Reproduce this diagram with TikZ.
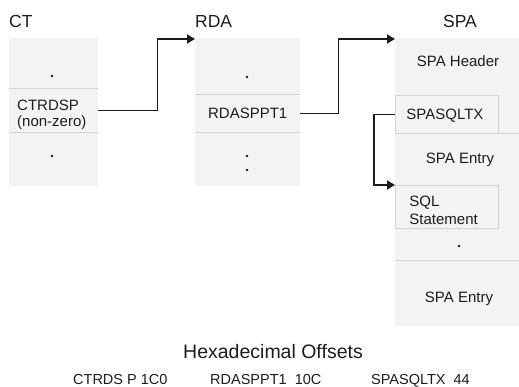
\documentclass[tikz,border=0pt]{standalone}
\usepackage{fontspec}
\setmainfont{Liberation Sans}
\usepackage{xcolor}
\definecolor{cellgray}{RGB}{243,243,243}
\definecolor{rulegray}{RGB}{210,210,210}
\definecolor{inkgray}{RGB}{28,28,28}
\usetikzlibrary{
    arrows.meta,
    positioning
}
\tikzset{
    colcell/.style  = {rectangle, fill=cellgray, inner sep=0pt, text=inkgray,
                       font=\fontsize{15}{15.5}\selectfont, align=center},
    subfield/.style = {rectangle, draw=rulegray, fill=cellgray, line width=0.9pt,
                       inner sep=0pt, text=inkgray, align=left,
                       font=\fontsize{15}{18}\selectfont},
    coltitle/.style = {font=\fontsize{17.5}{20}\selectfont, text=inkgray, inner sep=0pt},
    divider/.style  = {draw=rulegray, line width=0.9pt},
    ptrArr/.style   = {-{Triangle[length=8pt,width=9pt]}, line width=1.6pt, draw=inkgray},
    dotmark/.style  = {circle, fill=inkgray, inner sep=0pt, minimum size=2.8pt}
}

\begin{document}
\begin{tikzpicture}[
    x=1pt, y=-1pt,
    celltext/.style = {font=\fontsize{15}{16}\selectfont, text=inkgray, inner sep=0pt},
    hexrow/.style   = {font=\fontsize{14.5}{16}\selectfont, text=inkgray,
                       inner sep=0pt, anchor=base west}
]
\useasboundingbox (0,0) rectangle (519,387);

% ===== CT column =====
\node[coltitle, anchor=base west] (cttitle) at (9,28) {CT};
\node[colcell, minimum width=89pt, minimum height=50pt, anchor=north west] (ct1) at (9,38) {};
\node[colcell, minimum width=89pt, minimum height=44pt, below=0pt of ct1,
      text width=73pt, align=left, text height=19pt] (ct2) {CTRDSP\\(non-zero)};
\node[colcell, minimum width=89pt, minimum height=53pt, below=0pt of ct2] (ct3) {};
\draw[divider] (ct1.south west) -- (ct1.south east);
\draw[divider] (ct2.south west) -- (ct2.south east);
\node[dotmark] (ctdot1) at (52,76) {};
\node[dotmark] (ctdot2) at (52,156) {};

% ===== RDA column =====
\node[coltitle, anchor=base west] (rdatitle) at (195,28) {RDA};
\node[colcell, minimum width=105pt, minimum height=56pt, anchor=north west] (rda1) at (195,38) {};
\node[colcell, minimum width=105pt, minimum height=38pt, below=0pt of rda1,
      text height=10.5pt, text depth=0pt] (rda2) {RDASPPT1};
\node[colcell, minimum width=105pt, minimum height=53pt, below=0pt of rda2] (rda3) {};
\draw[divider] (rda1.south west) -- (rda1.south east);
\draw[divider] (rda2.south west) -- (rda2.south east);
\node[dotmark] (rdadot1) at (247,77) {};
\node[dotmark] (rdadot2) at (247,156) {};
\node[dotmark] (rdadot3) at (247,170) {};

% ===== SPA column =====
\node[coltitle, anchor=base] (spatitle) at (460,28) {SPA};
\node[colcell, minimum width=124pt, minimum height=288pt, anchor=north west] (spa) at (395,38) {};
\node[celltext, anchor=base] (spahdr) at (458,67) {SPA Header};
\node[subfield, minimum width=103pt, minimum height=38pt, text width=81pt,
      text height=11pt, text depth=0pt, anchor=north west] (spasqltx) at (395,95) {SPASQLTX};
\draw[divider] (spasqltx.south west) -- (spasqltx.south west -| spa.east);
\node[celltext, anchor=base] (spaent1) at (460,164) {SPA Entry};
\node[subfield, minimum width=103pt, minimum height=43pt, text width=75pt,
      text height=18pt, anchor=north west] (sqlstmt) at (395,185) {SQL\\Statement};
\node[dotmark] (spadot) at (459,246) {};
\coordinate (spacut) at (395,260);
\draw[divider] (spacut) -- (spacut -| spa.east);
\node[celltext, anchor=base] (spaent2) at (459,302) {SPA Entry};

% ===== Pointers =====
\draw[ptrArr] (ct2.east) -- ++(59,0) |- ([yshift=-1pt]rda1.north west);
\draw[ptrArr] (rda2.east) -- ++(38,0) |- ([yshift=-1pt]spa.north west);
\draw[ptrArr] (spasqltx.west) -- ++(-21,0) |- (sqlstmt.north west);

% ===== Offsets =====
\node[coltitle, anchor=base, font=\fontsize{19.5}{22}\selectfont] (hexttl) at (273,358) {Hexadecimal Offsets};
\node[hexrow] (offct) at (73,384) {CTRDS P 1C0};
\node[hexrow] (offrda) at (210,384) {RDASPPT1\ \ 10C};
\node[hexrow] (offspa) at (371,384) {SPASQLTX\ \ 44};

\end{tikzpicture}
\end{document}
